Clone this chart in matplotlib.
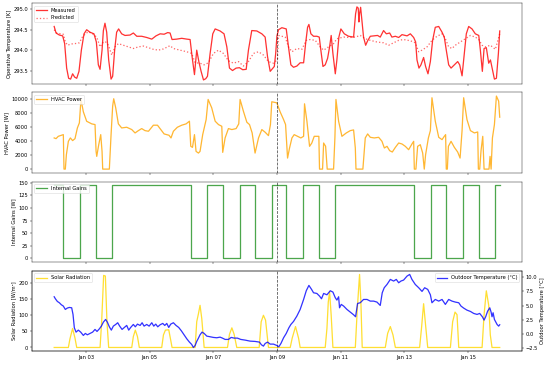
import matplotlib
matplotlib.use("Agg")
import matplotlib.pyplot as plt
import matplotlib.dates as mdates
import pandas as pd

START = pd.Timestamp("2025-01-02 00:00")

# hours since START
meas_h = [0, 1.4, 3.9, 6.4, 7.9, 9.4, 10.9, 12.4, 13.9, 15.4, 17.0, 18.7, 20.5, 22.5, 24.5, 27.0, 30.0,
          31.8, 33.3, 34.6, 36.1, 37.1, 38.3, 39.6, 41.1, 42.9, 44.1, 45.6, 47.1, 48.6, 50.9, 53.4, 57.2,
          59.7, 62.3, 66.0, 69.8, 73.6, 76.8, 79.9, 82.9, 85.6, 87.4, 88.9, 92.4, 96.2, 100.0, 102.5, 104.0,
          105.8, 107.5, 109.1, 110.8, 112.6, 114.3, 115.6, 117.6, 119.6, 121.4, 125.1, 128.1, 130.2, 132.2,
          134.5, 137.2, 139.7, 142.2, 144.8, 146.5, 149.0, 152.8, 156.6, 159.1, 160.9, 162.9, 164.9, 166.0,
          167.0, 168.0, 169.2, 171.7, 175.0, 176.7, 178.5, 180.5, 183.0, 185.5, 188.1, 189.6, 191.1, 192.1,
          193.6, 195.6, 198.1, 199.9, 201.1, 202.7, 204.4, 206.2, 207.7, 208.9, 210.2, 212.0, 213.2, 214.7,
          216.2, 218.8, 222.0, 225.8, 227.3, 228.3, 229.3, 229.8, 230.3, 231.1, 232.1, 233.3, 234.9, 236.4,
          238.4, 241.4, 243.9, 245.9, 248.4, 250.5, 253.0, 254.7, 257.3, 259.8, 262.3, 266.1, 268.6, 271.1,
          272.6, 273.6, 275.1, 276.6, 278.6, 280.1, 281.9, 283.7, 285.4, 287.4, 290.0, 292.5, 294.2, 295.7,
          297.5, 299.3, 301.8, 304.3, 305.8, 307.6, 309.3, 310.8, 312.6, 315.1, 317.6, 320.2, 321.4, 322.9,
          324.2, 325.9, 327.7, 329.0, 330.5, 332.0, 333.5, 335.0, 336.0]
meas_T = [294.58, 294.42, 294.37, 294.35, 294.16, 293.56, 293.31, 293.29, 293.42, 293.34, 293.31, 293.48,
          294.0, 294.40, 294.50, 294.44, 294.40, 294.20, 293.64, 293.53, 294.0, 294.48, 294.66, 294.44,
          293.76, 293.29, 293.36, 294.0, 294.44, 294.52, 294.40, 294.36, 294.37, 294.42, 294.34, 294.34,
          294.31, 294.27, 294.35, 294.40, 294.39, 294.43, 294.42, 294.26, 294.27, 294.29, 294.27, 294.26,
          293.84, 293.40, 294.0, 293.72, 293.48, 293.27, 293.30, 293.36, 293.92, 294.40, 294.52, 294.47,
          294.40, 294.08, 293.56, 293.50, 293.56, 293.57, 293.52, 293.53, 294.0, 294.48, 294.47, 294.40,
          294.32, 293.84, 293.48, 293.56, 293.60, 293.90, 294.35, 294.50, 294.55, 294.52, 294.08, 293.64,
          293.58, 293.61, 293.69, 293.69, 294.16, 294.56, 294.63, 294.40, 294.34, 294.34, 294.32, 294.0,
          293.60, 293.64, 293.80, 294.08, 294.36, 293.92, 293.42, 293.76, 294.32, 294.52, 294.40, 294.34,
          294.32, 294.89, 295.06, 295.03, 294.69, 294.89, 295.05, 294.73, 294.32, 294.12, 294.23, 294.34,
          294.35, 294.36, 294.32, 294.48, 294.40, 294.42, 294.32, 294.34, 294.31, 294.38, 294.35, 294.40,
          294.31, 294.20, 293.76, 293.56, 293.64, 293.82, 293.60, 293.42, 293.72, 294.24, 294.56, 294.58,
          294.44, 294.32, 294.0, 293.64, 293.56, 293.64, 293.72, 293.64, 293.37, 293.92, 294.40, 294.58,
          294.52, 294.40, 294.36, 294.0, 293.48, 294.04, 294.06, 293.68, 293.76, 293.52, 293.29, 293.31,
          293.92, 294.47]

pred_h = [0, 1.9, 4.9, 6.9, 8.4, 10.2, 12.4, 15.7, 19.0, 21.0, 23.5, 25.8, 29.0, 32.1, 34.6, 36.6, 38.6,
          40.9, 43.4, 45.9, 48.4, 52.2, 56.0, 59.7, 63.5, 67.3, 71.1, 74.8, 78.6, 82.4, 87.4, 89.9, 94.9,
          100.0, 103.7, 106.3, 110.0, 113.1, 116.3, 120.1, 123.9, 127.6, 131.4, 135.2, 139.0, 142.7, 146.5,
          150.3, 154.1, 157.8, 161.6, 165.4, 168.4, 169.2, 174.2, 176.7, 179.3, 183.0, 186.8, 190.1, 193.1,
          196.9, 200.6, 203.2, 206.9, 210.7, 213.2, 218.3, 223.3, 227.1, 230.8, 234.6, 238.4, 243.4, 248.4,
          252.2, 256.0, 259.8, 263.5, 268.6, 272.3, 274.9, 277.4, 281.2, 284.9, 288.7, 292.5, 295.0, 297.5,
          300.0, 302.5, 306.3, 310.1, 313.9, 317.6, 320.2, 322.7, 325.2, 329.0, 332.7, 336.0]
pred_T = [294.50, 294.42, 294.40, 294.39, 294.20, 294.12, 294.15, 294.16, 294.18, 294.31, 294.40, 294.45,
          294.40, 294.32, 294.08, 294.18, 294.21, 294.12, 293.88, 294.08, 294.16, 294.12, 294.08, 294.04,
          294.08, 294.10, 294.06, 294.02, 294.0, 294.03, 294.11, 294.04, 294.0, 293.96, 293.92, 293.69,
          293.68, 293.64, 293.69, 293.92, 294.0, 293.92, 293.74, 293.68, 293.72, 293.61, 293.72, 293.92,
          293.96, 293.88, 293.72, 293.68, 293.77, 294.36, 294.32, 294.08, 293.96, 294.04, 294.02, 294.24,
          294.26, 294.24, 294.08, 294.0, 294.08, 294.16, 294.28, 294.32, 294.31, 294.32, 294.36, 294.28,
          294.24, 294.20, 294.18, 294.12, 294.18, 294.24, 294.26, 294.23, 294.18, 293.96, 294.0, 294.08,
          294.24, 294.34, 294.40, 294.28, 294.08, 294.04, 294.12, 294.20, 294.28, 294.36, 294.32, 294.26,
          294.12, 294.08, 294.12, 294.02, 294.40]

hvac_h = [0, 1.4, 3.1, 5.6, 6.9, 7.4, 8.4, 9.2, 10.7, 12.2, 13.9, 15.7, 17.5, 19.0, 20.2, 22.0, 24.5, 28.3,
          30.8, 31.6, 32.1, 33.6, 35.1, 36.1, 36.6, 41.6, 42.9, 44.1, 44.9, 46.4, 48.4, 50.9, 54.7, 58.5,
          61.0, 63.5, 66.0, 68.5, 71.1, 74.8, 77.9, 80.4, 82.9, 84.9, 86.6, 88.1, 89.9, 92.9, 96.2, 99.5,
          102.0, 103.0, 104.3, 105.8, 107.0, 108.8, 110.0, 112.0, 114.6, 116.1, 118.8, 121.4, 123.9, 126.4,
          127.1, 128.9, 131.4, 134.0, 137.2, 139.2, 140.2, 142.7, 145.3, 147.3, 149.3, 151.5, 154.1, 156.6,
          159.1, 161.6, 163.1, 164.1, 167.9, 170.4, 173.0, 174.5, 176.0, 177.5, 179.3, 181.0, 183.5, 186.0,
          188.1, 188.8, 190.6, 192.6, 194.3, 196.1, 199.6, 200.1, 202.4, 203.2, 204.7, 205.9, 210.7, 211.7,
          212.5, 214.5, 217.0, 220.3, 223.3, 225.8, 227.1, 227.6, 232.8, 234.6, 236.4, 238.4, 241.4, 244.7,
          247.2, 249.0, 251.0, 253.0, 255.0, 257.3, 259.8, 262.3, 264.8, 267.3, 269.8, 271.1, 271.6, 272.8,
          274.1, 276.1, 277.9, 279.1, 280.1, 282.2, 283.7, 284.9, 287.4, 290.0, 292.5, 294.2, 295.2, 295.7,
          296.5, 297.3, 299.3, 301.8, 304.3, 306.1, 307.6, 308.8, 311.3, 313.9, 316.9, 319.4, 319.9, 320.9,
          321.9, 323.2, 324.2, 327.9, 328.7, 329.5, 330.5, 332.0, 333.5, 335.2, 336.0]
hvac_P = [4430, 4330, 4660, 4810, 4900, 0, 0, 2050, 3950, 4430, 4050, 4330, 5850, 6570, 9900, 8140, 6800,
          6430, 6330, 2520, 1810, 3470, 4900, 2520, 0, 0, 4900, 8950, 10000, 8710, 6430, 5850, 5950, 5620,
          5140, 5470, 5760, 5470, 5380, 6240, 6240, 5620, 5000, 4900, 4810, 4430, 5380, 5950, 6240, 6430,
          6810, 3240, 3090, 4900, 2520, 2280, 2520, 4900, 7040, 9900, 8710, 6810, 6330, 6090, 2380, 4430,
          5760, 5620, 5760, 6430, 9900, 8230, 6660, 6330, 5140, 2280, 4430, 5620, 5240, 4760, 6330, 9570,
          9420, 8140, 7040, 6330, 1570, 3000, 4430, 4900, 4660, 4430, 4660, 9280, 6810, 3240, 3710, 4660,
          4660, 0, 0, 3710, 3240, 0, 0, 4430, 9900, 6810, 4660, 5140, 5470, 5570, 3000, 0, 0, 4430, 5000,
          4520, 4430, 4520, 3950, 3000, 3240, 2620, 2430, 3090, 3710, 3570, 3240, 2760, 3570, 3950, 0, 0,
          3240, 3470, 2280, 0, 2050, 4430, 5470, 10140, 6810, 4520, 4190, 4660, 4900, 0, 0, 3240, 3950,
          3090, 2430, 1570, 5470, 10140, 7040, 5470, 5140, 5280, 0, 0, 2620, 4660, 0, 0, 1810, 0, 4430,
          6330, 10380, 9660, 7380]

# internal gains schedule: switch times (h) and level after each switch
gain_h = [0, 7, 19.5, 31.5, 43.5, 103, 115.5, 127.5, 140, 151.5, 164, 175, 188, 199.5, 212, 271.5, 284.5,
          295.5, 308.5, 320, 332.5, 336]
gain_W = [145, 0, 145, 0, 145, 0, 145, 0, 145, 0, 145, 0, 145, 0, 145, 0, 145, 0, 145, 0, 145, 145]

solar_h = [0, 10.7, 11.9, 13.9, 15.7, 17.0, 34.6, 35.8, 37.3, 38.6, 39.8, 41.1, 58.5, 59.7, 61.2, 62.8,
           64.2, 81.1, 82.4, 83.9, 86.4, 87.6, 88.9, 106.3, 107.5, 108.8, 110.0, 111.3, 113.1, 130.7, 132.2,
           134.0, 135.7, 137.7, 154.6, 156.1, 157.8, 159.4, 161.6, 178.0, 179.5, 182.0, 184.3, 185.5, 204.4,
           205.7, 206.7, 207.7, 208.9, 210.2, 227.1, 228.6, 230.3, 231.3, 232.3, 249.7, 251.5, 253.5, 255.5,
           257.3, 275.6, 277.1, 278.6, 280.1, 281.7, 298.8, 300.5, 302.3, 303.8, 305.1, 322.7, 324.2, 325.9,
           327.7, 328.9, 330.2, 336.0]
solar_W = [0, 0, 27, 59, 29, 0, 0, 80, 224, 222, 80, 0, 0, 34, 54, 34, 0, 0, 39, 54, 55, 29, 0, 0, 80, 105,
           131, 90, 0, 0, 41, 61, 41, 0, 0, 80, 100, 85, 0, 0, 29, 65, 29, 0, 0, 59, 141, 173, 100, 0, 0,
           120, 227, 141, 0, 0, 44, 65, 39, 0, 0, 64, 136, 69, 0, 0, 80, 110, 102, 0, 0, 102, 176, 131, 39,
           0, 0]

tout_h = [0, 0.9, 2.4, 3.9, 5.4, 6.9, 8.4, 9.9, 11.4, 13.2, 14.2, 15.2, 16.5, 18.2, 20.0, 22.0, 23.5, 25.0,
          27.0, 29.0, 30.8, 32.3, 34.1, 35.6, 37.1, 38.8, 40.1, 41.6, 43.1, 44.6, 46.4, 47.9, 49.4, 51.2,
          52.9, 54.7, 56.2, 57.7, 59.7, 61.2, 62.8, 64.8, 66.3, 67.8, 69.8, 71.6, 73.6, 75.1, 76.6, 78.1,
          79.9, 81.9, 83.4, 84.9, 86.4, 87.9, 89.9, 91.9, 93.9, 95.9, 97.9, 100.0, 102.0, 103.7, 105.0,
          106.3, 107.5, 108.8, 110.0, 111.5, 113.1, 115.1, 117.6, 120.1, 122.6, 125.1, 126.9, 128.9, 131.4,
          133.5, 135.7, 138.2, 140.7, 144.0, 147.8, 151.5, 154.8, 156.3, 157.8, 159.1, 160.9, 162.9, 165.4,
          167.9, 169.4, 171.0, 173.0, 175.0, 177.0, 178.5, 180.5, 183.0, 185.5, 188.1, 190.1, 192.1, 194.1,
          195.6, 198.1, 200.1, 201.6, 203.2, 205.7, 208.2, 210.2, 212.0, 213.2, 214.5, 215.2, 216.5, 218.3,
          220.8, 223.3, 225.8, 227.3, 228.8, 230.8, 233.3, 235.9, 238.4, 240.9, 243.4, 245.9, 247.4, 248.9,
          251.0, 253.5, 256.0, 258.0, 259.8, 261.5, 263.5, 266.1, 268.1, 269.8, 272.3, 274.9, 277.4, 279.4,
          281.7, 283.7, 284.9, 287.4, 290.0, 292.5, 295.0, 297.5, 300.0, 302.5, 305.1, 306.8, 308.8, 311.3,
          313.9, 316.4, 318.9, 320.9, 322.9, 324.2, 325.4, 326.9, 328.5, 329.5, 330.2, 331.0, 332.0, 334.0,
          335.2, 336.0]
tout_C = [6.54, 6.19, 5.72, 5.49, 5.14, 4.91, 4.32, 4.56, 4.67, 4.61, 3.45, 1.11, 0.35, 0.70, 0.35, -0.23,
          0.12, -0.12, 0.12, 0.35, 0.82, 0.47, 0.93, 1.40, 2.10, 2.57, 2.10, 1.28, 0.70, 1.40, 1.69, 1.99,
          1.40, 0.82, 1.17, 1.52, 0.70, 1.17, 1.69, 1.28, 1.75, 1.52, 1.99, 1.40, 1.69, 1.40, 1.99, 1.40,
          1.75, 1.28, 1.64, 1.87, 1.52, 1.87, 1.17, 1.75, 1.99, 1.52, 1.17, 0.58, -0.12, -0.82, -1.40, -1.81,
          -2.34, -1.99, -1.28, -0.70, -0.12, 0.35, 0.12, -0.35, -0.47, -0.58, -0.64, -0.53, -0.70, -0.93,
          -0.93, -0.58, -0.70, -0.70, -0.93, -1.05, -1.23, -1.28, -1.40, -1.87, -2.10, -1.64, -1.40, -1.75,
          -1.75, -1.99, -2.22, -1.64, -0.64, 0.12, 1.11, 1.69, 2.22, 3.15, 4.32, 6.07, 7.59, 8.53, 7.83,
          7.24, 7.12, 6.66, 6.19, 7.12, 6.89, 7.59, 7.36, 6.37, 5.96, 6.54, 4.61, 5.20, 4.91, 4.32, 3.85,
          3.39, 3.04, 5.37, 5.49, 6.07, 6.07, 5.78, 5.78, 5.61, 5.02, 7.24, 8.12, 8.70, 9.58, 9.29, 9.58,
          8.99, 9.29, 9.46, 10.16, 10.45, 9.58, 8.70, 8.12, 7.48, 8.12, 7.83, 6.89, 5.49, 6.07, 5.78, 6.07,
          5.20, 6.07, 5.78, 5.61, 5.49, 4.91, 4.56, 4.20, 3.97, 3.62, 3.45, 3.62, 3.04, 2.45, 3.04, 4.03,
          4.61, 3.85, 3.04, 3.74, 2.57, 1.69, 1.40, 1.64]

split_time = START + pd.Timedelta(hours=168)


def to_time(hours):
    return START + pd.to_timedelta(hours, unit="h")


LW = 2.5

fig, axes = plt.subplots(4, 1, figsize=(15, 9.955), sharex=True)
fig.subplots_adjust(left=0.058, right=0.949, top=0.991, bottom=0.038, hspace=0.11)

# temperature
ax = axes[0]
ax.plot(to_time(meas_h), meas_T, color="red", alpha=0.8, lw=LW, label="Measured")
ax.plot(to_time(pred_h), pred_T, color="red", alpha=0.6, lw=LW, linestyle=":", label="Predicted")
ax.set_ylabel("Operative Temperature [K]")
ax.legend(loc="upper left")

# hvac
ax = axes[1]
ax.plot(to_time(hvac_h), hvac_P, color="orange", alpha=0.8, lw=LW, label="HVAC Power")
ax.set_ylabel("HVAC Power [W]")
ax.legend(loc="upper left")

# gains
ax = axes[2]
ax.plot(to_time(gain_h), gain_W, color="green", alpha=0.7, lw=LW, drawstyle="steps-post",
        label="Internal Gains")
ax.set_ylabel("Internal Gains [W]")
ax.legend(loc="upper left")

# solar + outdoor temp
ax = axes[3]
ax.plot(to_time(solar_h), solar_W, color="gold", alpha=0.8, lw=LW, label="Solar Radiation")
ax.set_ylabel("Solar Radiation [W/m²]")
ax.legend(loc="upper left")
ax2 = ax.twinx()
ax2.plot(to_time(tout_h), tout_C, color="blue", alpha=0.8, lw=LW, label="Outdoor Temperature (°C)")
ax2.set_ylabel("Outdoor Temperature [°C]")
ax2.legend(loc="upper right")

for a in axes:
    a.axvline(split_time, color="black", linestyle="--", linewidth=1.5, alpha=0.7)

axes[3].xaxis.set_major_locator(mdates.DayLocator(interval=2))
axes[3].xaxis.set_major_formatter(mdates.DateFormatter("%b %d"))

fig.savefig("out.png", dpi=36.67)
